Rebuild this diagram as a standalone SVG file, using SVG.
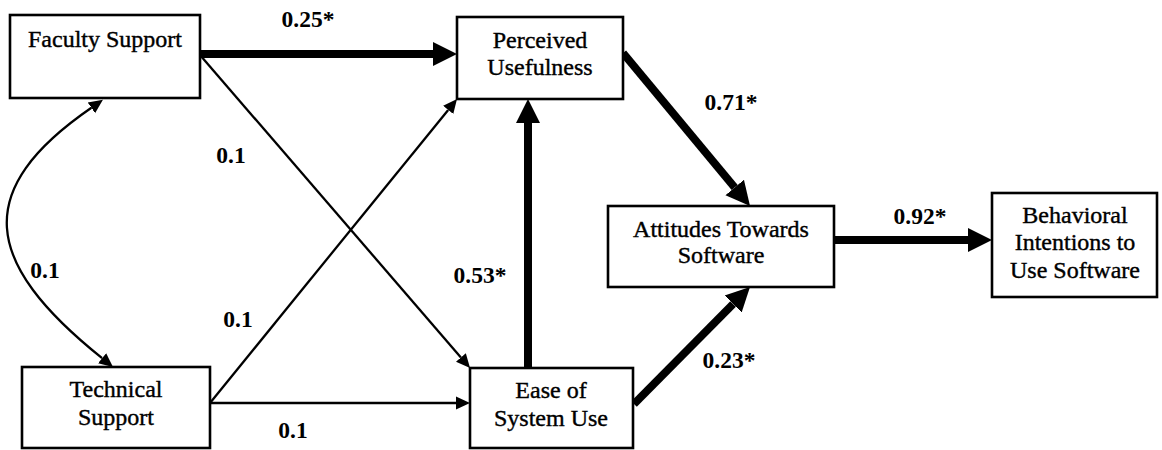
<svg xmlns="http://www.w3.org/2000/svg" width="1162" height="450" viewBox="0 0 1162 450">
<style>
.box{fill:#fff;stroke:#000;stroke-width:2.6}
.t{font-family:"Liberation Serif","Times New Roman",serif;font-size:24px;fill:#000;stroke:#000;stroke-width:0.4;text-anchor:middle}
.lbl{font-family:"Liberation Serif","Times New Roman",serif;font-size:23.5px;font-weight:bold;fill:#000;text-anchor:middle}
.thick{fill:none;stroke:#000;stroke-width:8}
.thin{fill:none;stroke:#000;stroke-width:2.3}
</style>
<defs>
<marker id="ah" markerUnits="userSpaceOnUse" markerWidth="26" markerHeight="26" viewBox="0 -13 26 26" refX="0" refY="0" orient="auto"><path d="M0,-12 L24,0 L0,12 Z" fill="#000"/></marker>
<marker id="as" markerUnits="userSpaceOnUse" markerWidth="16" markerHeight="16" viewBox="0 -8 16 16" refX="0" refY="0" orient="auto-start-reverse"><path d="M0,-6.5 L14,0 L0,6.5 Z" fill="#000"/></marker>
</defs>
<g id="connectors">
<path class="thick" d="M200,54 L433,54" marker-end="url(#ah)"/>
<path class="thin" d="M200,55 L460.9,357.4" marker-end="url(#as)"/>
<path class="thin" d="M210,403 L448.2,109.9" marker-end="url(#as)"/>
<path class="thin" d="M210,403 L456,403" marker-end="url(#as)"/>
<path class="thick" d="M528,368 L528,123" marker-end="url(#ah)"/>
<path class="thick" d="M623,53 L734.7,187.5" marker-end="url(#ah)"/>
<path class="thick" d="M634,404 L733.1,304" marker-end="url(#ah)"/>
<path class="thick" d="M834,240 L968,240" marker-end="url(#ah)"/>
<path class="thin" d="M91.4,107.8 C-28,190 -18,262 102.1,358.2" marker-start="url(#as)" marker-end="url(#as)"/>
</g>
<g id="labels">
<text class="lbl" x="308" y="27">0.25*</text>
<text class="lbl" x="231" y="163">0.1</text>
<text class="lbl" x="45" y="278">0.1</text>
<text class="lbl" x="238" y="327">0.1</text>
<text class="lbl" x="293" y="438">0.1</text>
<text class="lbl" x="480" y="283">0.53*</text>
<text class="lbl" x="731" y="110">0.71*</text>
<text class="lbl" x="729" y="368">0.23*</text>
<text class="lbl" x="920" y="224">0.92*</text>
</g>
<g id="faculty"><rect class="box" x="10" y="15" width="190" height="83"/><text class="t" x="105" y="47">Faculty Support</text></g>
<g id="technical"><rect class="box" x="22" y="367" width="188" height="81"/><text class="t" x="116" y="397">Technical</text><text class="t" x="116" y="425">Support</text></g>
<g id="usefulness"><rect class="box" x="457" y="17" width="166" height="82"/><text class="t" x="540" y="48">Perceived</text><text class="t" x="540" y="75">Usefulness</text></g>
<g id="ease"><rect class="box" x="470" y="368" width="163" height="80"/><text class="t" x="551" y="398">Ease of</text><text class="t" x="551" y="426">System Use</text></g>
<g id="attitudes"><rect class="box" x="608" y="206" width="226" height="81"/><text class="t" x="721" y="237">Attitudes Towards</text><text class="t" x="721" y="263">Software</text></g>
<g id="behavioral"><rect class="box" x="992" y="193" width="165" height="104"/><text class="t" x="1075" y="223">Behavioral</text><text class="t" x="1075" y="250">Intentions to</text><text class="t" x="1075" y="278">Use Software</text></g>
</svg>
